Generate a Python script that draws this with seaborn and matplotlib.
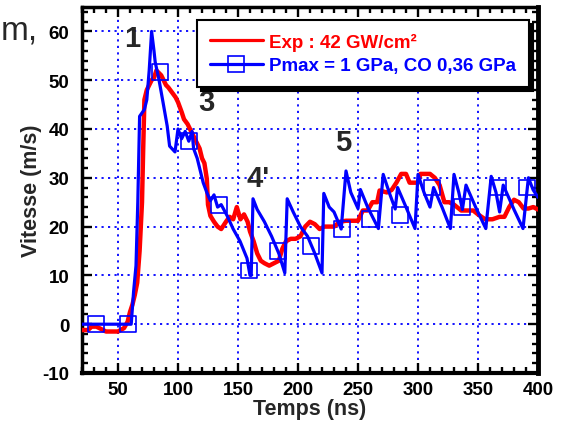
import matplotlib
matplotlib.use("Agg")
import matplotlib.pyplot as plt
from matplotlib.lines import Line2D
import seaborn as sns
import pandas as pd

# Measured free-surface velocity (experiment)
t_exp = [20, 25, 28, 32, 36, 40, 45, 50, 55, 58,
         60, 62, 64, 66, 68, 70, 71, 72, 74, 76,
         78, 80, 82, 84, 86, 88, 90, 92, 95, 98,
         100, 103, 105, 108, 110, 112, 114, 116, 118, 120,
         122, 124, 125, 127, 130, 133, 136, 140, 143, 146,
         149, 152, 155, 158, 160, 163, 166, 169, 172, 176,
         180, 184, 187, 190, 194, 198, 202, 206, 210, 214,
         218, 222, 226, 230, 235, 240, 245, 250, 254, 258,
         262, 266, 268, 274, 278, 282, 286, 290, 293, 300,
         302, 310, 314, 318, 322, 326, 330, 336, 342, 346,
         350, 356, 362, 368, 372, 376, 380, 384, 388, 392,
         396, 400]
v_exp = [-1.2, -1.2, -0.5, -0.5, -1.0, -1.5, -1.5, -1.5, -0.8, 0.5,
         2.5, 4, 6, 8.5, 15, 25, 36, 46, 48, 49,
         50, 50.5, 52, 51.5, 51, 50, 49, 48.5, 47.5, 46.5,
         45.5, 43.5, 42, 41, 40, 39, 38, 37, 36, 34,
         33, 29.8, 24.5, 22.2, 21, 20, 19.5, 21, 22, 21.5,
         24, 21.5, 22.5, 21, 19, 17, 14.5, 13, 12.5, 12,
         12.5, 13, 15.5, 17, 17.5, 17.5, 18, 20, 21, 20.5,
         19.5, 20, 20, 20, 21, 21.2, 21.2, 21.2, 23.3, 23.3,
         25, 25, 27.4, 27, 27.5, 29, 30.8, 30.8, 29, 29,
         30.8, 30.8, 30, 28.5, 25, 25, 24.5, 23.3, 23.3, 23.3,
         22.5, 21.5, 21.5, 22, 22, 24, 25.5, 25, 23.7, 23.7,
         24, 23.5]

# Simulated velocity (Pmax = 1 GPa, CO 0.36 GPa)
t_sim = [20, 40, 55, 61, 63, 65, 66.5, 68, 72, 74,
         76, 78, 80, 81, 84, 87.5, 91, 93, 97.5, 100,
         103, 106, 109, 111.7, 113, 116, 121, 124, 127, 130,
         133, 136, 141, 146, 151.7, 157.5, 160, 161, 162.5, 166,
         172, 178, 184, 189, 191, 196, 202, 208, 214, 220,
         221.5, 226, 230, 236, 240, 244, 250, 252, 258, 267,
         271, 276, 281, 283, 290, 297.5, 300, 305, 310, 313,
         320, 327, 330, 334, 337, 340, 348, 356.5, 361, 365,
         368, 371, 380, 387.5, 392, 396, 400]
v_sim = [0, 0, 0, 0, 6.7, 12, 25, 42.6, 44, 46,
         52, 60, 56, 53.7, 50.3, 45.5, 40.6, 36.5, 35.3, 40,
         38, 39.5, 37.5, 39.5, 36, 34, 29, 27, 25.3, 26.5,
         24, 24.5, 22.2, 19.5, 17, 13.5, 10, 10, 25.7, 23.5,
         21, 18, 14.5, 10.5, 25.7, 23, 20, 18, 14.5, 10.5,
         26.8, 24, 23, 19.5, 31.4, 27, 23.7, 27.6, 24, 19.6,
         30.7, 27, 23.6, 28, 24, 19.6, 30.7, 27, 24, 28,
         24, 19.6, 30.7, 27, 23.5, 28.5, 24, 19.6, 30.3, 27,
         23, 28.5, 23.5, 19.6, 30, 27.5, 26]

# Square symbols along the simulated curve
t_sym = [32, 58, 85, 109, 134, 159, 183, 211, 237, 260, 285, 312, 337, 367, 391]
v_sym = [0, 0, 51.6, 37.5, 24.5, 11, 15, 16, 19.5, 21.6, 22.4, 28, 24, 28, 28]

# Wave labels
peak_labels = ["1", "3", "4'", "5"]
peak_t = [61.5, 124, 167, 237.5]
peak_v = [58.6, 45.6, 30, 37.3]

label_exp = "Exp : 42 GW/cm²"
label_sim = "Pmax = 1 GPa, CO 0,36 GPa"

sns.set_style("ticks")
plt.rcParams["font.family"] = ["Liberation Sans", "DejaVu Sans"]
plt.rcParams["font.weight"] = "bold"
plt.rcParams["axes.unicode_minus"] = False

RED = "#ff0000"
BLUE = "#0000ff"

df_exp = pd.DataFrame({"t": t_exp, "v": v_exp})
df_sim = pd.DataFrame({"t": t_sim, "v": v_sim})
df_sym = pd.DataFrame({"t": t_sym, "v": v_sym})

fig = plt.figure(figsize=(5.66, 4.31), dpi=100)
ax = fig.add_axes([82 / 566, 57 / 431, 456 / 566, 366 / 431])

sns.lineplot(data=df_exp, x="t", y="v", ax=ax, color=RED, lw=3.2,
             estimator=None, sort=False, zorder=3)
sns.lineplot(data=df_sim, x="t", y="v", ax=ax, color=BLUE, lw=2.3,
             estimator=None, sort=False, zorder=4)
sns.scatterplot(data=df_sym, x="t", y="v", ax=ax, marker="s", s=130,
                facecolor="none", edgecolor=BLUE, linewidth=1.2, zorder=5)

ax.set_xlim(20, 400)
ax.set_ylim(-10, 65)
ax.set_xticks(range(50, 401, 50))
ax.set_yticks(range(-10, 61, 10))
ax.set_xticks(range(20, 401, 10), minor=True)
ax.set_yticks(range(-10, 65, 2), minor=True)

ax.grid(True, which="major", color=BLUE, linestyle=(0, (1.2, 2.4)), lw=1.3)
ax.set_axisbelow(True)

ax.tick_params(which="both", direction="in", top=True, right=True,
               labelsize=13.5, width=1.7, colors="black")
ax.tick_params(which="major", length=7)
ax.tick_params(which="minor", length=4)
for lab in ax.get_xticklabels() + ax.get_yticklabels():
    lab.set_fontweight("bold")
ax.tick_params(axis="x", pad=6)
ax.tick_params(axis="y", pad=9)

for side, lw in [("left", 2.5), ("top", 2.5), ("right", 3.5), ("bottom", 3.0)]:
    ax.spines[side].set_linewidth(lw)
    ax.spines[side].set_color("black")

ax.set_xlabel("Temps (ns)", fontsize=15.5, fontweight="bold", labelpad=0)
ax.set_ylabel("Vitesse (m/s)", fontsize=15.5, fontweight="bold", labelpad=0)

for txt, tx, vy in zip(peak_labels, peak_t, peak_v):
    ax.text(tx, vy, txt, fontsize=21, fontweight="bold", ha="center",
            va="center", zorder=6)

handles = [
    Line2D([], [], color=RED, lw=2.3),
    Line2D([], [], color=BLUE, lw=2.3, marker="s", markersize=11,
           markerfacecolor="none", markeredgecolor=BLUE, markeredgewidth=1.2),
]
leg = ax.legend(handles, [label_exp, label_sim], loc="upper right",
                bbox_to_anchor=(0.980, 0.9645), borderaxespad=0,
                frameon=True, fancybox=False, framealpha=1,
                edgecolor="black", handlelength=2.8, handletextpad=0.35,
                labelspacing=0.35, borderpad=0.68, fontsize=13.5,
                shadow={"color": "black", "alpha": 1.0, "ox": 3, "oy": -3})
leg.get_frame().set_linewidth(1.5)
leg.set_zorder(10)
for text, col in zip(leg.get_texts(), [RED, BLUE]):
    text.set_color(col)
    text.set_fontweight("bold")

fig.text(0.002, 1 - 39 / 431, "m,", fontsize=24, fontweight="normal",
         ha="left", va="baseline")

fig.savefig("out.png", dpi=100)
